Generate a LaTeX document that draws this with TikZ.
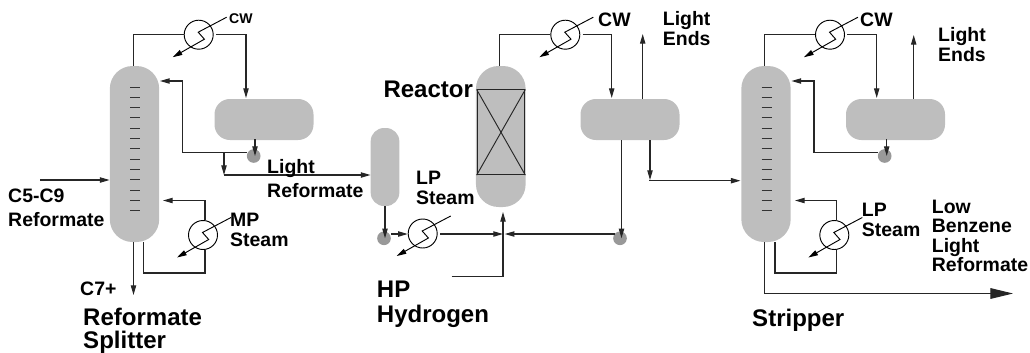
\documentclass[tikz,border=0pt]{standalone}
\usepackage{fontspec}
\setmainfont{Liberation Sans}
\usepackage{xcolor}
\definecolor{vesselgray}{HTML}{BEBEBE}
\definecolor{pumpgray}{HTML}{999999}
\usetikzlibrary{arrows.meta,calc}

\begin{document}
\begin{tikzpicture}[
  x=0.03cm, y=-0.03cm,
  column/.style={rectangle, rounded corners=0.68cm, fill=vesselgray,
                 minimum width=1.48cm, minimum height=5.28cm, inner sep=0pt},
  drum/.style={rectangle, rounded corners=0.46cm, fill=vesselgray,
               minimum width=2.97cm, minimum height=1.23cm, inner sep=0pt},
  vap/.style={rectangle, rounded corners=0.4cm, fill=vesselgray,
              minimum width=0.86cm, minimum height=2.34cm, inner sep=0pt},
  reac/.style={rectangle, rounded corners=0.68cm, fill=vesselgray,
               minimum width=1.49cm, minimum height=4.23cm, inner sep=0pt},
  bed/.style={rectangle, draw=black!85, line width=0.9pt,
              minimum width=1.43cm, minimum height=2.54cm, inner sep=0pt},
  exch/.style={circle, draw=black, fill=white, line width=0.8pt,
               minimum size=0.87cm, inner sep=0pt},
  pump/.style={circle, fill=pumpgray, minimum size=0.41cm, inner sep=0pt},
  pipe/.style={line width=0.9pt, black!85},
  flow/.style={-{Triangle[length=2.9mm,width=1.6mm]}, line width=0.9pt, black!85},
  coil/.style={-{Triangle[length=2.9mm,width=1.6mm]}, line width=0.8pt, black},
  prod/.style={-{Triangle[length=6.8mm,width=3.2mm]}, line width=0.9pt, black!85},
  tray/.style={line width=0.8pt, black!80},
  lab/.style={font=\fontsize{16.6}{16.6}\selectfont\bfseries, align=left,
              inner sep=0pt, anchor=base west},
  biglab/.style={font=\fontsize{20.5}{20.5}\selectfont\bfseries, align=left,
                 inner sep=0pt, anchor=base west},
  smlab/.style={font=\fontsize{12}{12}\selectfont\bfseries,
                inner sep=0pt, anchor=base west},
]
\useasboundingbox (0,0) rectangle (1030,352);

% ================= vessels
\node[column] (col1) at (134.5,154)  {};
\node[drum]   (drum1) at (264,119.5) {};
\node[vap]    (vap1) at (385,167)    {};
\node[reac]   (reac1) at (500.8,136.5) {};
\node[bed]    (bed1) at (501,132.3)  {};
\node[drum]   (drum2) at (630,119.5) {};
\node[column] (col2) at (766,154)    {};
\node[drum]   (drum3) at (895.5,119.5) {};

\draw[line width=0.8pt, black!85] (bed1.north west) -- (bed1.south east);
\draw[line width=0.8pt, black!85] (bed1.north east) -- (bed1.south west);

% trays of the two columns
\foreach \i in {0,...,12} {
  \draw[tray] (130,{87+10.3*\i}) -- ++(10,0);
  \draw[tray] (761.5,{87+10.3*\i}) -- ++(10,0);
}

% ================= exchangers and pumps
\node[exch] (ex1) at (198.7,34.7) {};
\node[exch] (ex2) at (203,235)    {};
\node[exch] (ex3) at (422.7,233.5) {};
\node[exch] (ex4) at (565.3,34.7) {};
\node[exch] (ex5) at (830,34.7)   {};
\node[exch] (ex6) at (834.3,235)  {};

\node[pump] (p1) at (253.7,156)   {};
\node[pump] (p2) at (384,238.3)   {};
\node[pump] (p3) at (620,238.3)   {};
\node[pump] (p4) at (884.7,156)   {};

\foreach \ex in {ex1,ex2,ex3,ex4,ex5,ex6}
  \draw[coil] ($(\ex)+(28,-17.5)$) -- ($(\ex)+(-0.5,-2.5)$) -- ($(\ex)+(5.7,4.5)$)
    -- ($(\ex)+(-26,22.5)$);

% ================= free ends and bends
\coordinate (d1in) at (246,98);
\coordinate (d1out) at (255,139);
\coordinate (p1l) at (247,152.5);
\coordinate (r1c) at (182.5,81);
\coordinate (r1in) at (160,81);
\coordinate (lr1) at (224,175);
\coordinate (vapin) at (370.5,175);
\coordinate (feedin) at (40,180);
\coordinate (reb1in) at (163,200.5);
\coordinate (reb1out) at (143.5,242);
\coordinate (c7out) at (133.5,295);
\coordinate (mix) at (503,234);
\coordinate (rin) at (503,212);
\coordinate (h2in) at (451.7,276.7);
\coordinate (d2in) at (611.7,98);
\coordinate (le1) at (642.7,34);
\coordinate (d2b) at (650,180);
\coordinate (col2in) at (740.5,180.7);
\coordinate (d2p) at (621.5,140);
\coordinate (d3in) at (876.7,98);
\coordinate (le2) at (913.7,35);
\coordinate (d3out) at (886.7,139);
\coordinate (p4l) at (878,152.5);
\coordinate (r2c) at (814,81);
\coordinate (r2in) at (791.5,81);
\coordinate (reb2in) at (795,200.5);
\coordinate (reb2out) at (775,242);
\coordinate (prodout) at (1013,293.5);
\coordinate (prodc) at (764.7,293.5);

% ================= splitter
\draw[pipe] (col1.north -| 133.5,0) |- (ex1.west);
\draw[flow] ([xshift=2pt]ex1.east) -| (d1in);
\draw[flow] (d1out) -- (d1out |- p1.center);
\draw[flow] (p1l) -| (r1c) -- (r1in);
\draw[flow] (p1l -| lr1) -- (lr1);
\draw[flow] (lr1) -- (vapin);
\draw[flow] (feedin) -- (col1.west |- feedin);
\draw[flow] ([xshift=1.7pt]ex2.north) |- (reb1in);
\draw[pipe] ([xshift=1.7pt]ex2.south) |- (143.5,273) -- (reb1out);
\draw[flow] (c7out |- col1.south) -- (c7out);

% ================= reactor section
\draw[flow] (vap1.south) -- (vap1.south |- p2.center);
\draw[flow] (391,234) -- (ex3.west |- 0,234);
\draw[flow] ([xshift=2pt]ex3.east |- mix) -- (mix);
\draw[flow] (h2in) -| (rin);
\draw[flow] (p3.north west |- mix) -- ([xshift=1.5pt]mix);
\draw[pipe] (reac1.north -| 499.7,0) |- (ex4.west);
\draw[flow] ([xshift=2pt]ex4.east) -| (d2in);
\draw[flow] (le1 |- drum2.north) -- (le1);
\draw[flow] (d2p) -- (d2p |- p3.center);
\draw[flow] (d2b |- drum2.south) -- (d2b);
\draw[flow] (649,180.7) -- (col2in);

% ================= stripper
\draw[pipe] (prodc |- col2.north) |- (ex5.west);
\draw[flow] ([xshift=2pt]ex5.east) -| (d3in);
\draw[flow] (le2 |- drum3.north) -- (le2);
\draw[flow] (d3out) -- (d3out |- p4.center);
\draw[flow] (p4l) -| (r2c) -- (r2in);
\draw[flow] ([xshift=1.7pt]ex6.north) |- (reb2in);
\draw[pipe] ([xshift=1.7pt]ex6.south) |- (775,273) -- (reb2out);
\draw[pipe] (prodc |- col2.south) -- (prodc);
\draw[prod] (prodc) -- (prodout);

% ================= labels
\node[smlab] (t1) at (229,23) {CW};
\node[lab] (t2) at (230,246) {MP\\Steam};
\node[lab] (t3) at (267,197) {Light\\[3.5pt]Reformate};
\node[lab] (t4) at (8,226) {C5-C9\\[3.5pt]Reformate};
\node[lab] (t5) at (80,295) {C7+};
\node[biglab] (t6) at (83,348) {Reformate\\[-1.5pt]Splitter};
\node[biglab] (t7) at (383.3,97.7) {Reactor};
\node[lab] (t8) at (416,204) {LP\\Steam};
\node[biglab] (t9) at (376.7,322) {HP\\Hydrogen};
\node[lab] (t10) at (598,26) {CW};
\node[lab] (t11) at (662.7,45) {Light\\Ends};
\node[lab] (t12) at (860,26) {CW};
\node[lab] (t13) at (938,61) {Light\\Ends};
\node[lab] (t14) at (861.7,236) {LP\\Steam};
\node[lab] (t15) at (931.7,271.7) {Low\\Benzene\\Light\\Reformate};
\node[biglab] (t16) at (752,326.7) {Stripper};
\end{tikzpicture}
\end{document}
